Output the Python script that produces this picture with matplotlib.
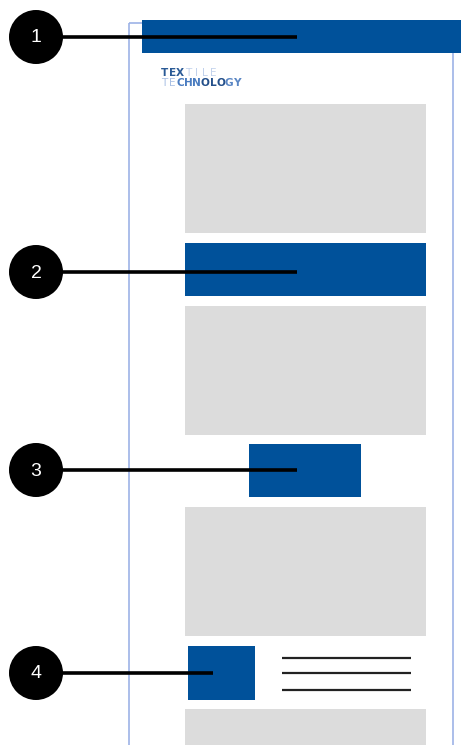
import matplotlib
matplotlib.use("Agg")
from matplotlib import pyplot as plt
from matplotlib.patches import Rectangle, Circle

BLUE = "#00519a"
GRAY = "#dcdcdc"
OUTLINE = "#9db3e6"

# page layout blocks: (x, y, width, height)
gray_boxes = [(185, 104, 241, 129), (185, 306, 241, 129),
              (185, 507, 241, 129), (185, 709, 241, 60)]
blue_boxes = [(142, 20, 330, 33), (185, 243, 241, 53),
              (249, 444, 112, 53), (188, 646, 67, 54)]
text_lines_y = [658, 673, 690]

# callouts: label, circle centre y, line end x
callout_labels = ["1", "2", "3", "4"]
callout_y = [37, 272, 470, 673]
callout_end_x = [297, 297, 297, 213]

# logo letters and their colours
logo_rows = ["TEXTILE", "TECHNOLOGY"]
logo_colors = [
    ["#2a5a96", "#2a5a96", "#2a5a96", "#c2d2ec", "#c2d2ec", "#c2d2ec", "#c2d2ec"],
    ["#a9c0e4", "#a9c0e4", "#4a7cc0", "#4a7cc0", "#4a7cc0",
     "#234f8a", "#234f8a", "#234f8a", "#5a86c4", "#5a86c4"],
]
logo_bold = [[1, 1, 1, 0, 0, 0, 0], [0, 0, 1, 1, 1, 1, 1, 1, 1, 1]]


def main():
    fig = plt.figure(figsize=(4.61, 7.45), dpi=100)
    ax = fig.add_axes([0, 0, 1, 1])
    ax.set_xlim(0, 461)
    ax.set_ylim(745, 0)
    ax.axis("off")

    # page outline
    ax.add_patch(Rectangle((129, 23), 324, 760, fill=False,
                           edgecolor=OUTLINE, lw=1.2))

    for (x, y, w, h) in gray_boxes:
        ax.add_patch(Rectangle((x, y), w, h, facecolor=GRAY, edgecolor="none"))
    for (x, y, w, h) in blue_boxes:
        ax.add_patch(Rectangle((x, y), w, h, facecolor=BLUE, edgecolor="none"))

    for y in text_lines_y:
        ax.plot([282, 411], [y, y], color="#222222", lw=1.6,
                solid_capstyle="butt")

    # logo
    row_y = [73, 82.5]
    for r, word in enumerate(logo_rows):
        for i, ch in enumerate(word):
            ax.text(160 + i * 8.15 + 4, row_y[r], ch,
                    color=logo_colors[r][i], fontsize=7.6,
                    fontweight="bold" if logo_bold[r][i] else "normal",
                    ha="center", va="center", family="DejaVu Sans")

    # callouts
    for lab, cy, ex in zip(callout_labels, callout_y, callout_end_x):
        ax.plot([36, ex], [cy, cy], color="black", lw=2.6,
                solid_capstyle="butt", zorder=4)
        ax.add_patch(Circle((36, cy), 27, facecolor="black",
                            edgecolor="none", zorder=5))
        ax.text(36, cy + 1, lab, color="white", fontsize=14,
                ha="center", va="center", zorder=6, family="Liberation Sans")

    fig.savefig("out.png", dpi=100)


if __name__ == "__main__":
    main()
